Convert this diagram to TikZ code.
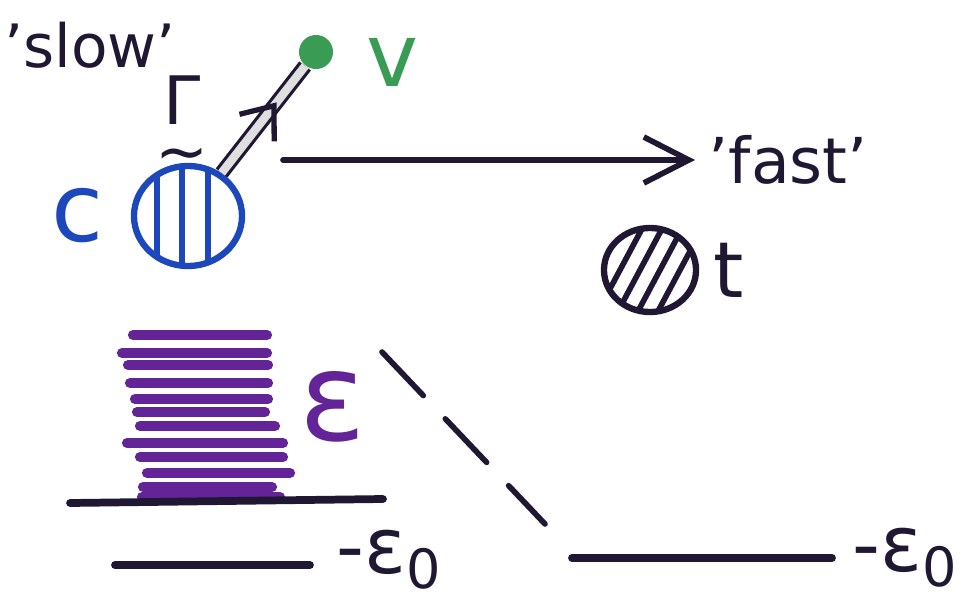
\documentclass[tikz,border=0pt]{standalone}
\usepackage{fontspec}
\setmainfont{DejaVu Sans}
\usetikzlibrary{positioning, arrows.meta, shapes.geometric, decorations.markings}

\definecolor{inkblack}{RGB}{32,24,50}
\definecolor{inkblue}{RGB}{28,72,188}
\definecolor{inkgreen}{RGB}{58,156,84}
\definecolor{inkpurple}{RGB}{98,36,150}

\begin{document}
\begin{tikzpicture}[
	x=0.01cm, y=-0.01cm,
	ink/.style={
		draw=inkblack,
		line width=1.6pt,
		line cap=round
	},
	level/.style={
		draw=inkblack,
		line width=2.2pt,
		line cap=round
	},
	stroke/.style={
		draw=inkpurple,
		line width=2.9pt,
		line cap=round
	},
	word/.style={
		inner sep=0pt,
		text=inkblack
	},
	cdisc/.style={
		ellipse,
		draw=inkblue,
		line width=1.8pt,
		inner sep=0pt,
		minimum width=1.08cm,
		minimum height=1.0cm,
		path picture={
			\foreach \dx in {-31,-6,20}
				\draw[inkblue, line width=1.7pt] (path picture bounding box.center) ++(\dx,-60) -- ++(0,120);
		}
	},
	tdisc/.style={
		ellipse,
		draw=inkblack,
		line width=1.8pt,
		inner sep=0pt,
		minimum width=0.92cm,
		minimum height=0.84cm,
		path picture={
			\foreach \dx in {-30,-10,10,30}
				\draw[inkblack, line width=1.6pt] (path picture bounding box.center) ++({\dx-24},45) -- ++(48,-90);
		}
	},
	vdisc/.style={
		circle,
		fill=inkgreen,
		inner sep=0pt,
		minimum size=0.34cm
	},
	push/.style={ink, -{Straight Barb[length=0.45cm, width=0.46cm, line width=1.6pt]}},
	spoke/.style={
		draw=inkblack,
		line width=0.9pt,
		double=gray!25,
		double distance=2.4pt,
		postaction={decorate},
		decoration={markings,
			mark=at position 0.66 with {\arrow[inkblack, line width=1.5pt]{Straight Barb[length=0.28cm, width=0.44cm]}}}
	}
	]
	\useasboundingbox (0,0) rectangle (973,600);
	
	% ======================
	% Slow particle c and its decay
	% ======================
	\node (slow) [word, font=\fontsize{17}{17}\selectfont] at (90,45) {'slow'};
	\node (gamma) [word, font=\fontsize{19}{19}\selectfont] at (182,100) {Γ};
	\node (tilde) [word, font=\fontsize{18}{18}\selectfont, below=0.22cm of gamma] {∼};
	
	\node (cdot) [cdisc] at (188,216) {};
	\node (clab) [word, text=inkblue, font=\fontsize{27}{27}\selectfont, left=0.26cm of cdot] {c};
	
	\node (vdot) [vdisc] at (316,52) {};
	\node (vlab) [word, text=inkgreen, font=\fontsize{25}{25}\selectfont, right=0.32cm of vdot, yshift=-0.1cm] {v};
	
	\draw[spoke] (cdot) -- (vdot);
	
	% ======================
	% Fast particle t
	% ======================
	\coordinate (kick) at (283,160);
	\node (fast) [word, anchor=west, font=\fontsize{18}{18}\selectfont] at (708,160) {'fast'};
	\draw[push, shorten >=0.13cm] (kick) -- (fast.west);
	
	\node (tdot) [tdisc] at (650,270) {};
	\node (tlab) [word, font=\fontsize{22}{22}\selectfont, right=0.14cm of tdot] {t};
	
	% ======================
	% Continuum of levels
	% ======================
	\foreach \y/\xa/\xb in {335/133/267, 353/122/267, 365/128/268, 383/130/268,
		399/135/268, 412/137/265, 426/140/275, 443/127/283,
		457/140/283, 473/147/290, 487/143/272, 497/142/280}
		\draw[stroke] (\xa,\y) -- (\xb,\y);
	\node (eps) [word, text=inkpurple, font=\fontsize{35}{35}\selectfont] at (333,407) {ε};
	
	\coordinate (banda) at (70,503);
	\coordinate (bandb) at (383,499);
	\draw[level] (banda) -- (bandb);
	
	% bound level
	\coordinate (lowa) at (115,565);
	\coordinate (lowb) at (310,565);
	\draw[level] (lowa) -- (lowb);
	\node (lowlab) [word, font=\fontsize{22}{22}\selectfont, right=0.26cm of lowb, yshift=0.05cm] {-ε\textsubscript{0}};
	
	% shifted level
	\coordinate (dropa) at (382,352);
	\coordinate (dropb) at (545,524);
	\draw[ink, dash pattern=on 0.6cm off 0.32cm] (dropa) -- (dropb);
	
	\coordinate (higha) at (572,558);
	\coordinate (highb) at (832,558);
	\draw[level] (higha) -- (highb);
	\node (highlab) [word, font=\fontsize{22}{22}\selectfont, right=0.2cm of highb] {-ε\textsubscript{0}};
	
\end{tikzpicture}
\end{document}
